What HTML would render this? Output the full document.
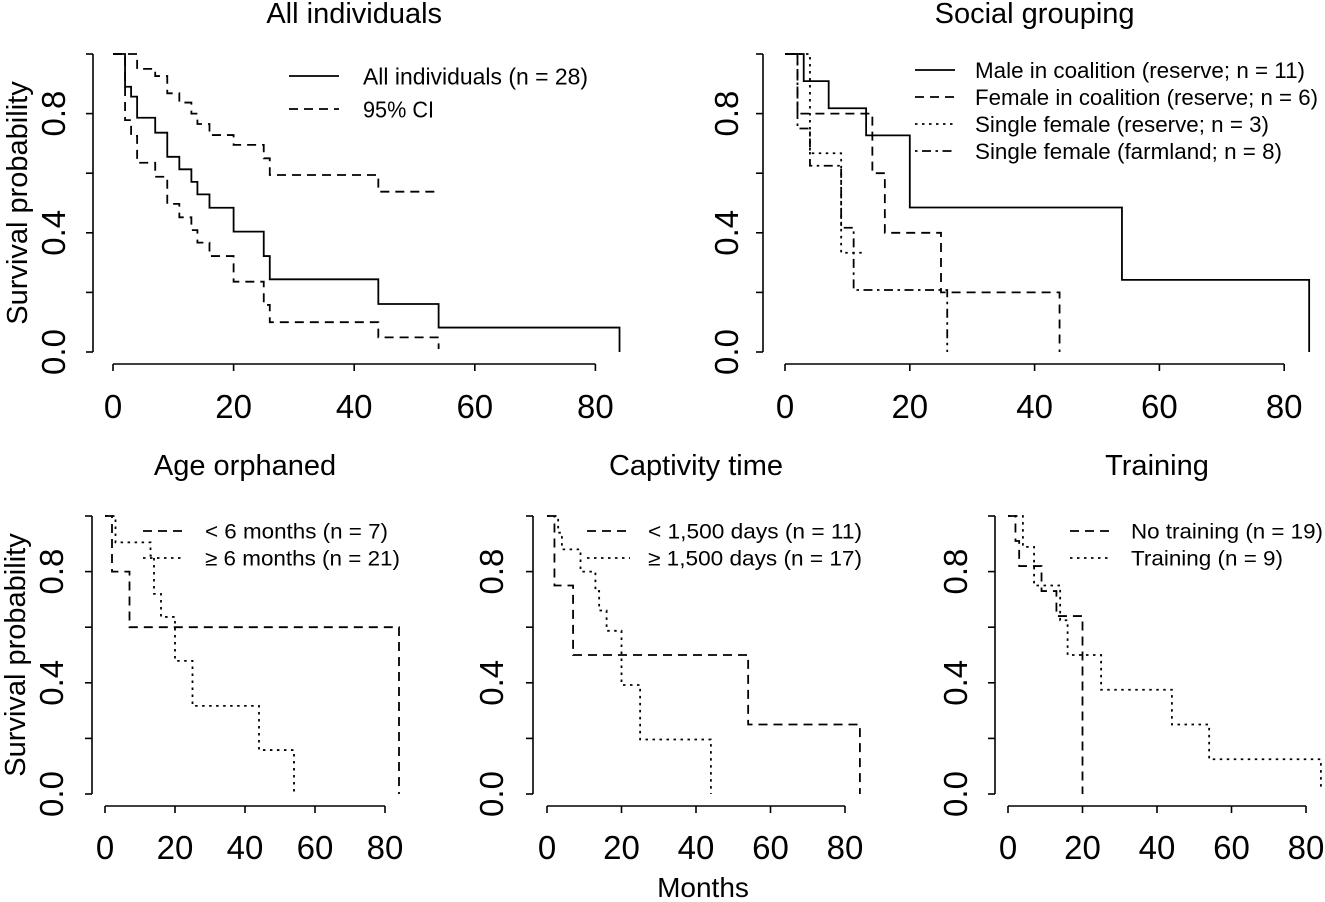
<!DOCTYPE html>
<html><head><meta charset="utf-8"><style>
html,body{margin:0;padding:0;background:#fff}
svg{display:block}
text{font-family:"Liberation Sans",Arial,sans-serif;fill:#000}
</style></head><body>
<svg id="fig" width="1325" height="902" viewBox="0 0 1325 902" xmlns="http://www.w3.org/2000/svg"></svg>
<script>
// ---- data (months, survival probability) ----
const allTimes = [0,2,3,4,7,9,11,13,14,16,20,25,26,44,54,84];
const allSurv = [1,.89,.857,.786,.736,.655,.613,.571,.529,.484,.404,.322,.244,.161,.082,0];
const ciUpTimes = [0,4,7,9,11,13,14,16,20,25,26,44];
const ciUpSurv = [1,.95,.926,.868,.837,.80,.765,.728,.695,.65,.594,.538];
const ciLoTimes = [0,2,3,4,7,9,11,13,14,16,20,25,26,44,54];
const ciLoSurv = [1,.778,.725,.635,.588,.497,.452,.409,.367,.322,.236,.158,.10,.049,.01];
const maleTimes = [0,3,7,13,20,54,84];
const maleSurv = [1,.909,.818,.727,.485,.242,0];
const femCoalTimes = [0,2,14,16,25,44];
const femCoalSurv = [1,.8,.6,.4,.2,0];
const singleResTimes = [0,4,9];
const singleResSurv = [1,.667,.333];
const farmTimes = [0,2,4,9,11,26];
const farmSurv = [1,.75,.625,.417,.208,0];
const youngTimes = [0,2,7,84];
const youngSurv = [1,.8,.6,0];
const oldTimes = [0,3,13,14,16,20,25,44,54];
const oldSurv = [1,.905,.857,.72,.637,.479,.317,.158,0];
const shortCapTimes = [0,2,7,54,84];
const shortCapSurv = [1,.75,.5,.25,0];
const longCapTimes = [0,3,4,9,13,14,16,20,25,44];
const longCapSurv = [1,.94,.88,.8,.73,.66,.587,.392,.196,0];
const noTrainTimes = [0,2,3,9,13,20];
const noTrainSurv = [1,.91,.82,.73,.64,0];
const trainTimes = [0,4,7,14,16,25,44,54,84];
const trainSurv = [1,.889,.75,.625,.5,.375,.25,.125,.015];
const xTicks = [0,20,40,60,80];
const yTicks = [0,0.2,0.4,0.6,0.8,1.0];
const yLabels = ["0.0","","0.4","","0.8",""];

const NS = "http://www.w3.org/2000/svg";
const svg = document.getElementById('fig');
function el(tag, attrs, parent, txt){
  const e = document.createElementNS(NS, tag);
  for (const k in attrs) e.setAttribute(k, attrs[k]);
  if (txt !== undefined) e.textContent = txt;
  (parent||svg).appendChild(e);
  return e;
}
const DASH = {solid:null, dashed:"9,6", dotted:"2.5,4.5", dotdash:"2.5,4.5,9,4.5"};

const panels = [
 {id:'all-individuals', title:'All individuals', x0:113, xs:6.03, yTop:54, yBot:352, axX:93, axY:364, fs:33, tfs:29, titleY:23,
  tickLblX:65, xLblY:418, ytitleX:27, showYTitle:true,
  series:[['all-individuals-km',allTimes,allSurv,null,'solid'],['ci-upper',ciUpTimes,ciUpSurv,54,'dashed'],['ci-lower',ciLoTimes,ciLoSurv,54,'dashed']],
  legend:{lx1:289,lx2:339,tx:363,rows:[[76,'All individuals (n = 28)',225,'solid'],[109,'95% CI',71,'dashed']],fs:23}},
 {id:'social-grouping', title:'Social grouping', x0:785, xs:6.24, yTop:54, yBot:352, axX:763, axY:364, fs:33, tfs:29, titleY:23,
  tickLblX:738, xLblY:418, showYTitle:false,
  series:[['male-coalition',maleTimes,maleSurv,null,'solid'],['female-coalition',femCoalTimes,femCoalSurv,null,'dashed'],['single-female-reserve',singleResTimes,singleResSurv,13,'dotted'],['single-female-farmland',farmTimes,farmSurv,null,'dotdash']],
  legend:{lx1:915,lx2:955,tx:975,rows:[[70,'Male in coalition (reserve; n = 11)',330,'solid'],[97,'Female in coalition (reserve; n = 6)',343,'dashed'],[124,'Single female (reserve; n = 3)',294,'dotted'],[151,'Single female (farmland; n = 8)',307,'dotdash']],fs:22}},
 {id:'age-orphaned', title:'Age orphaned', x0:105, xs:3.5, yTop:516, yBot:794, axX:92, axY:806, fs:33, tfs:29, titleY:475,
  tickLblX:63, xLblY:859, ytitleX:25, showYTitle:true,
  series:[['under-6-months',youngTimes,youngSurv,null,'dashed'],['over-6-months',oldTimes,oldSurv,null,'dotted']],
  legend:{lx1:143,lx2:185,tx:205,rows:[[531,'< 6 months (n = 7)',183,'dashed'],[558,'≥ 6 months (n = 21)',195,'dotted']],fs:21}},
 {id:'captivity-time', title:'Captivity time', x0:547, xs:3.725, yTop:516, yBot:794, axX:533, axY:806, fs:33, tfs:29, titleY:475,
  tickLblX:503, xLblY:859, showYTitle:false,
  series:[['under-1500-days',shortCapTimes,shortCapSurv,null,'dashed'],['over-1500-days',longCapTimes,longCapSurv,null,'dotted']],
  legend:{lx1:587,lx2:630,tx:648,rows:[[531,'< 1,500 days (n = 11)',214,'dashed'],[558,'≥ 1,500 days (n = 17)',214,'dotted']],fs:21}},
 {id:'training', title:'Training', x0:1008, xs:3.725, yTop:516, yBot:794, axX:995, axY:806, fs:33, tfs:29, titleY:475,
  tickLblX:967, xLblY:859, showYTitle:false,
  series:[['no-training',noTrainTimes,noTrainSurv,null,'dashed'],['training',trainTimes,trainSurv,null,'dotted']],
  legend:{lx1:1070,lx2:1112,tx:1131,rows:[[531,'No training (n = 19)',192,'dashed'],[558,'Training (n = 9)',152,'dotted']],fs:21}}
];

panels.forEach(p=>{
  const g = el('g',{});
  
  
  const X = t => p.x0 + t*p.xs;
  const Y = s => p.yBot - s*(p.yBot-p.yTop);
  const cx = (X(0)+X(80))/2;
  const tt = el('text',{x:cx,y:p.titleY,'font-size':p.tfs,'text-anchor':'middle'},g,p.title);
  
  
  const ya = el('g',{},g);
  
  
  el('line',{x1:p.axX,x2:p.axX,y1:Y(0),y2:Y(1),stroke:'#000','stroke-width':1.6},ya);
  yTicks.forEach((v,i)=>{
    el('line',{x1:p.axX-7,x2:p.axX,y1:Y(v),y2:Y(v),stroke:'#000','stroke-width':1.6},ya);
    if (yLabels[i]) {
      const t = el('text',{x:0,y:0,'font-size':p.fs,'text-anchor':'middle',transform:`translate(${p.tickLblX},${Y(v)}) rotate(-90)`},ya,yLabels[i]);
      
      
    }
  });
  const xa = el('g',{},g);
  
  
  el('line',{x1:X(0),x2:X(80),y1:p.axY,y2:p.axY,stroke:'#000','stroke-width':1.6},xa);
  xTicks.forEach(v=>{
    el('line',{x1:X(v),x2:X(v),y1:p.axY,y2:p.axY+7,stroke:'#000','stroke-width':1.6},xa);
    const t = el('text',{x:X(v),y:p.xLblY,'font-size':p.fs,'text-anchor':'middle'},xa,String(v));
    
    
  });
  if (p.showYTitle) {
    const yt = el('text',{x:0,y:0,'font-size':29,'text-anchor':'middle',transform:`translate(${p.ytitleX},${(Y(0)+Y(1))/2}) rotate(-90)`},g,'Survival probability');
    
    
  }
  p.series.forEach(([name,times,surv,endT,style])=>{
    let d = `M${X(times[0])},${Y(surv[0])}`;
    for (let i=1;i<times.length;i++){
      d += ` H${X(times[i])} V${Y(surv[i])}`;
    }
    if (endT!==null && endT!==undefined) d += ` H${X(endT)}`;
    const attrs = {d:d,fill:'none',stroke:'#000','stroke-width':1.8};
    if (DASH[style]) attrs['stroke-dasharray']=DASH[style];
    const path = el('path',attrs,g);
    
    
  });
  const lg = el('g',{},g);
  
  
  p.legend.rows.forEach(([y,label,w,style])=>{
    const la = {x1:p.legend.lx1,x2:p.legend.lx2,y1:y,y2:y,stroke:'#000','stroke-width':1.8};
    if (DASH[style]) la['stroke-dasharray']=DASH[style];
    el('line',la,lg);
    const t = el('text',{x:p.legend.tx,y:y+p.legend.fs*0.36,'font-size':p.legend.fs,textLength:w,lengthAdjust:'spacingAndGlyphs'},lg,label);
    
    
  });
});
const mt = el('text',{x:703,y:897,'font-size':28,'text-anchor':'middle'},svg,'Months');


</script>
</body></html>
